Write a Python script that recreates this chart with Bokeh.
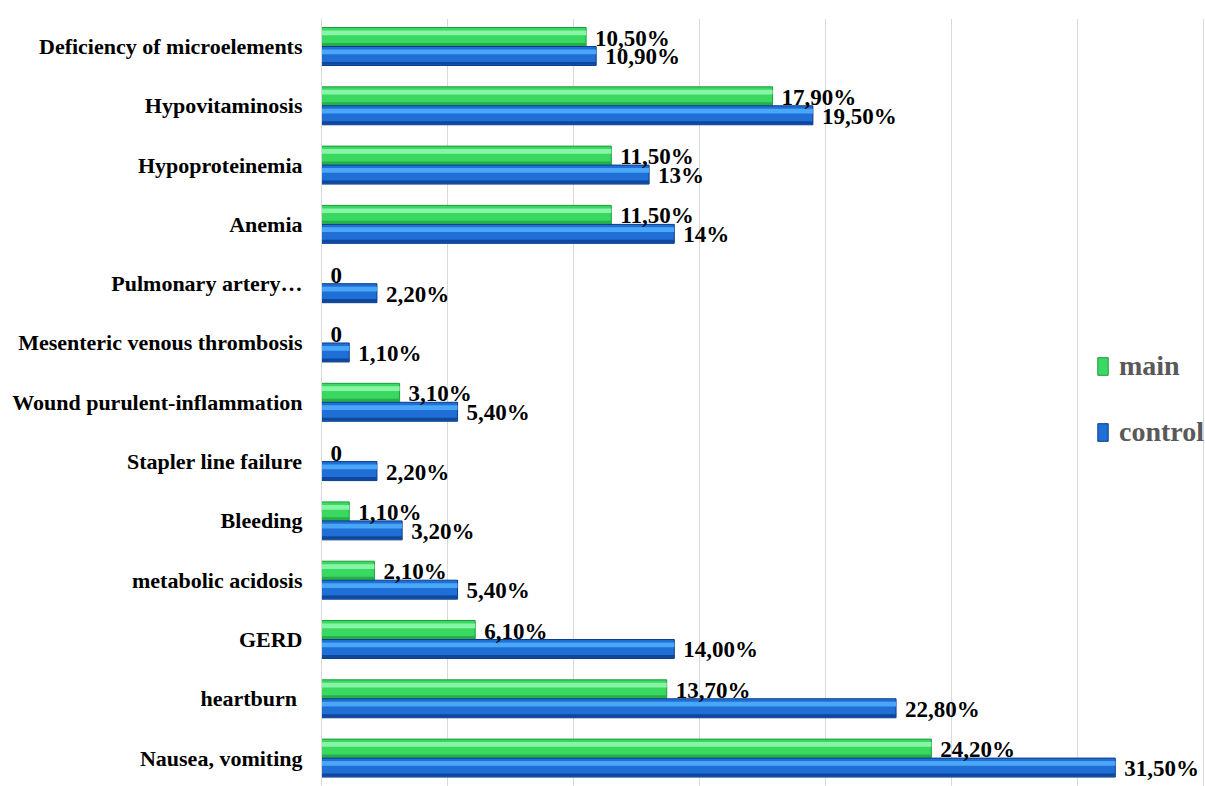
from bokeh.plotting import figure
from bokeh.models import ColumnDataSource, FixedTicker, Range1d, Legend, LegendItem
from bokeh.transform import dodge
from bokeh.core.properties import value
from bokeh.embed import file_html
from bokeh.resources import INLINE

categories = ["Deficiency of microelements", "Hypovitaminosis", "Hypoproteinemia", "Anemia",
              "Pulmonary artery\u2026", "Mesenteric venous thrombosis", "Wound purulent-inflammation",
              "Stapler line failure", "Bleeding", "metabolic acidosis", "GERD", "heartburn ",
              "Nausea, vomiting"]
main = [10.5, 17.9, 11.5, 11.5, 0, 0, 3.1, 0, 1.1, 2.1, 6.1, 13.7, 24.2]
control = [10.9, 19.5, 13.0, 14.0, 2.2, 1.1, 5.4, 2.2, 3.2, 5.4, 14.0, 22.8, 31.5]
main_labels = ["10,50%", "17,90%", "11,50%", "11,50%", "0", "0", "3,10%", "0", "1,10%",
               "2,10%", "6,10%", "13,70%", "24,20%"]
control_labels = ["10,90%", "19,50%", "13%", "14%", "2,20%", "1,10%", "5,40%", "2,20%",
                  "3,20%", "5,40%", "14,00%", "22,80%", "31,50%"]
grid_ticks = [0, 5, 10, 15, 20, 25, 30, 35]

n = len(categories)
rows = [n - 1 - i for i in range(n)]
src = ColumnDataSource(dict(row=rows, main=main, control=control,
                            ml=main_labels, cl=control_labels))

FONT = value("Liberation Serif")

p = figure(width=1205, height=786, x_range=Range1d(0, 35.08), y_range=Range1d(-0.479, 12.472),
           output_backend="svg", toolbar_location=None,
           min_border_left=321, min_border_top=18, min_border_bottom=0, min_border_right=0)
p.outline_line_color = None
p.background_fill_color = "white"

p.xaxis.visible = False
p.xgrid.ticker = FixedTicker(ticks=grid_ticks)
p.xgrid.grid_line_color = "#d9d9d9"
p.xgrid.grid_line_width = 1
p.ygrid.visible = False

p.yaxis.ticker = FixedTicker(ticks=rows)
p.yaxis.major_label_overrides = {r: c for r, c in zip(rows, categories)}
p.yaxis.axis_line_color = "#d9d9d9"
p.yaxis.major_tick_line_color = None
p.yaxis.minor_tick_line_color = None
p.yaxis.major_tick_out = 0
p.yaxis.major_label_standoff = 19
p.yaxis.major_label_text_font = "Liberation Serif"
p.yaxis.major_label_text_font_style = "bold"
p.yaxis.major_label_text_font_size = "22px"
p.yaxis.major_label_text_color = "black"

H = 0.32
# green (main) bars
g_main = p.hbar(y=dodge("row", H / 2, range=p.y_range), left=0, right="main", height=H,
                fill_color="#39d861", line_color="#1e9a3f", line_width=1, source=src)
p.hbar(y=dodge("row", 0.23, range=p.y_range), left=0, right="main", height=0.08,
       fill_color="#88f5a6", line_color=None, source=src)
p.hbar(y=dodge("row", 0.035, range=p.y_range), left=0, right="main", height=0.05,
       fill_color="#26ae49", line_color=None, source=src)

# blue (control) bars
g_ctrl = p.hbar(y=dodge("row", -H / 2, range=p.y_range), left=0, right="control", height=H,
                fill_color="#1f6fd6", line_color="#0b3c88", line_width=1, source=src)
p.hbar(y=dodge("row", -0.09, range=p.y_range), left=0, right="control", height=0.08,
       fill_color="#4aa7f7", line_color=None, source=src)
p.hbar(y=dodge("row", -0.285, range=p.y_range), left=0, right="control", height=0.05,
       fill_color="#0e479c", line_color=None, source=src)

# value labels
p.text(x="main", y=dodge("row", H / 2, range=p.y_range), text="ml", x_offset=9, y_offset=1,
       text_baseline="middle", text_align="left", text_font=FONT, text_font_style="bold",
       text_font_size="23px", text_color="black", source=src)
p.text(x="control", y=dodge("row", -H / 2, range=p.y_range), text="cl", x_offset=9, y_offset=1,
       text_baseline="middle", text_align="left", text_font=FONT, text_font_style="bold",
       text_font_size="23px", text_color="black", source=src)

legend = Legend(items=[LegendItem(label="main", renderers=[g_main]),
                       LegendItem(label="control", renderers=[g_ctrl])],
                location=(775, 338), glyph_width=13, glyph_height=22,
                label_text_font="Liberation Serif", label_text_font_style="bold",
                label_text_font_size="28px", label_text_color="#595959",
                label_standoff=10, spacing=34, padding=0, margin=0,
                border_line_color=None, background_fill_alpha=0)
p.add_layout(legend)

open("out.html", "w").write(file_html(p, INLINE))
